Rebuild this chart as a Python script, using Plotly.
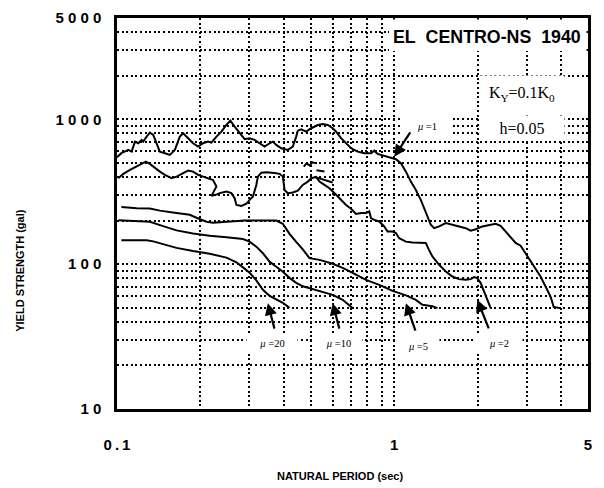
import numpy as np
import plotly.graph_objects as go

# ---------------- data ----------------
T_mu1 = [0.100, 0.1037, 0.1098, 0.1129, 0.1161, 0.1193, 0.1227, 0.1243, 0.1279, 0.1314,
         0.1351, 0.1389, 0.1427, 0.1488, 0.1551, 0.1617, 0.1685, 0.1732, 0.1805, 0.1881,
         0.1961, 0.2044, 0.2130, 0.2191, 0.2284, 0.2380, 0.2481, 0.2564, 0.2657, 0.2770,
         0.2887, 0.3009, 0.3136, 0.3268, 0.3407, 0.3551, 0.3650, 0.3754, 0.3913, 0.4133,
         0.4307, 0.4430, 0.4490, 0.4617, 0.4813, 0.5016, 0.5299, 0.5523, 0.5756, 0.5999,
         0.6170, 0.6430, 0.6703, 0.6986, 0.7379, 0.7800, 0.8245, 0.8472, 0.8710, 0.9204,
         0.9730, 1.014, 1.057, 1.102, 1.148, 1.197, 1.247, 1.318, 1.355, 1.393,
         1.452, 1.535, 1.621, 1.713, 1.811, 1.888, 1.968, 2.078, 2.196, 2.322,
         2.420, 2.523, 2.629, 2.741, 2.857, 2.977, 3.103, 3.234, 3.371, 3.514,
         3.662, 3.763, 3.978]
S_mu1 = [547, 583, 614, 598, 701, 683, 720, 701, 759, 808,
         779, 683, 598, 583, 567, 614, 759, 801, 740, 683,
         647, 683, 701, 690, 759, 821, 913, 978, 889, 801,
         728, 740, 720, 683, 647, 683, 701, 665, 631, 614,
         647, 759, 834, 853, 821, 867, 913, 928, 913, 867,
         821, 740, 683, 631, 598, 583, 583, 607, 576, 558,
         547, 530, 497, 435, 371, 325, 278, 213, 187, 177,
         182, 192, 187, 184, 177, 170, 174, 182, 187, 190,
         184, 168, 151, 140, 134, 119, 104, 93.8, 82.1, 70.1,
         59.8, 50.5, 49.7]

T_mu2 = [0.1011, 0.1054, 0.1114, 0.1177, 0.1227, 0.1271, 0.1314, 0.1370, 0.1427, 0.1488,
         0.1573, 0.1640, 0.1709, 0.1805, 0.1881, 0.1961, 0.2044, 0.2130, 0.2221, 0.2284,
         0.2221, 0.2191, 0.2271, 0.2347, 0.2481, 0.2586, 0.2657, 0.2696, 0.2810, 0.2929,
         0.3009, 0.3093, 0.3181, 0.3223, 0.3314, 0.3455, 0.3701, 0.3858, 0.3965, 0.3998,
         0.4021, 0.4133, 0.4307, 0.4490, 0.4679, 0.4877, 0.5016, 0.5229, 0.5374, 0.5602,
         0.5838, 0.6170, 0.6430, 0.6703, 0.6986, 0.7281, 0.7590, 0.7911, 0.8130, 0.8245,
         0.8472, 0.8831, 0.9204, 0.9461, 0.9861, 1.014, 1.042, 1.102, 1.164, 1.230,
         1.300, 1.336, 1.373, 1.452, 1.535, 1.621, 1.713, 1.811, 1.888, 1.940,
         1.994, 2.051, 2.108, 2.166, 2.228]
S_mu2 = [392, 420, 447, 471, 492, 510, 492, 459, 435, 413,
         392, 402, 420, 442, 435, 413, 402, 392, 381, 343,
         309, 296, 301, 309, 317, 309, 285, 256, 252, 261,
         278, 293, 352, 402, 428, 430, 426, 420, 402, 364,
         325, 309, 312, 322, 352, 371, 392, 400, 371, 352,
         334, 301, 278, 256, 241, 222, 225, 225, 231, 208,
         202, 197, 182, 168, 168, 164, 151, 143, 141, 140,
         140, 125, 113, 98.9, 88.9, 82.1, 78.8, 77.9, 78.8, 81.4,
         80.1, 74.0, 64.7, 56.7, 49.7]

T_mu5 = [0.1037, 0.1177, 0.1314, 0.1427, 0.1640, 0.1830, 0.1935, 0.2102, 0.2221, 0.2550,
         0.2887, 0.3268, 0.3754, 0.3965, 0.4191, 0.4430, 0.4679, 0.4946, 0.5374, 0.5999,
         0.6518, 0.7079, 0.7911, 0.8831, 0.9861, 1.102, 1.197, 1.264, 1.373, 1.432]
S_mu5 = [248, 243, 242, 234, 225, 219, 209, 196, 193, 197,
         200, 200, 200, 190, 162, 142.5, 126.5, 110, 107, 100.5,
         94.3, 87.1, 77.9, 72.0, 65.4, 60.9, 56.7, 52.4, 51.2, 49.7]

T_mu10 = [0.1011, 0.1177, 0.1314, 0.1467, 0.1640, 0.1881, 0.2160, 0.2481, 0.2847, 0.3009,
          0.3181, 0.3359, 0.3551, 0.3754, 0.3965, 0.4191, 0.4430, 0.4679, 0.4946, 0.5374,
          0.5999, 0.6518, 0.6774, 0.7079]
S_mu10 = [201, 199, 196, 183, 171, 163, 157, 153.5, 149, 143,
          132, 119, 104, 95.8, 88.5, 80.4, 74.3, 70.3, 68.1, 64.7,
          61.4, 56.7, 53.2, 49.7]

T_mu20 = [0.1037, 0.1177, 0.1279, 0.1351, 0.1427, 0.1640, 0.1881, 0.2160, 0.2481, 0.2696,
          0.2847, 0.3009, 0.3181, 0.3359, 0.3551, 0.3754, 0.3965, 0.4191]
S_mu20 = [146, 145.5, 146, 143.6, 139.6, 129.5, 123.1, 117.8, 110.9, 102.9,
          95.0, 87.1, 77.3, 66.5, 60.4, 57.0, 54.1, 49.9]

# small pen marks near T~0.5 in the original
T_mark_a = [0.4718, 0.4826, 0.4946, 0.5070, 0.5242]
S_mark_a = [471, 496, 480, 504, 496]
T_mark_b = [0.5242, 0.5602]
S_mark_b = [444, 436]
T_mark_c = [0.5156, 0.5999]
S_mark_c = [400, 366]

series_T = [T_mu1, T_mu2, T_mu5, T_mu10, T_mu20, T_mark_a, T_mark_b, T_mark_c]
series_S = [S_mu1, S_mu2, S_mu5, S_mu10, S_mu20, S_mark_a, S_mark_b, S_mark_c]

x_tick_vals = [0.1, 1, 5]
x_tick_text = ["0\u2009.\u20091", "1", "5"]
y_tick_vals = [10, 100, 1000, 5000]
y_tick_text = ["1 0", "1 0 0", "1 0 0 0", "5 0 0 0"]
x_grid_vals = [0.2, 0.3, 0.4, 0.5, 0.6, 0.7, 0.8, 0.9, 2, 3, 4]
y_grid_vals = [20, 30, 40, 50, 60, 70, 80, 90, 200, 300, 400, 500, 600, 700, 800, 900,
               2000, 3000, 4000]

label_text = ["<i>\u03bc</i> =1", "<i>\u03bc</i> =2", "<i>\u03bc</i> =5",
              "<i>\u03bc</i> =10", "<i>\u03bc</i> =20"]
label_T = [1.315, 2.386, 1.220, 0.629, 0.361]
label_S = [899, 28.7, 27.3, 28.7, 28.7]
label_box_w = [50, 46, 42, 47, 50]
arrow_tip_T = [1.0, 1.994, 1.102, 0.600, 0.350]
arrow_tip_S = [550, 56.7, 53.8, 53.8, 53.8]
arrow_dx = [17, 12, 10, 7, 7]
arrow_dy = [-26, 30, 29, 27, 27]

# ---------------- figure ----------------
fig = go.Figure()
for tx, sy in zip(series_T, series_S):
    fig.add_trace(go.Scatter(x=tx, y=sy, mode="lines",
                             line=dict(color="black", width=2),
                             hoverinfo="skip", showlegend=False))

grid_style = dict(showgrid=True, gridcolor="black", gridwidth=1.6, griddash="2px,2.6px")

fig.update_xaxes(type="log", range=[-1, np.log10(5)], automargin=False,
                 tickmode="array", tickvals=x_tick_vals, ticktext=x_tick_text,
                 ticks="", ticklabelstandoff=20,
                 tickfont=dict(size=15, family="Liberation Sans, Arial", weight="bold"),
                 showline=True, mirror=True, linecolor="black", linewidth=2.5,
                 zeroline=False,
                 minor=dict(tickmode="array", tickvals=x_grid_vals, ticks="", **grid_style),
                 **grid_style)
fig.update_yaxes(type="log", range=[1, np.log10(5000)], automargin=False,
                 tickmode="array", tickvals=y_tick_vals, ticktext=y_tick_text,
                 ticks="", ticklabelstandoff=10,
                 tickfont=dict(size=15, family="Liberation Sans, Arial", weight="bold"),
                 showline=True, mirror=True, linecolor="black", linewidth=2.5,
                 zeroline=False,
                 minor=dict(tickmode="array", tickvals=y_grid_vals, ticks="", **grid_style),
                 **grid_style)

# helpers: pixel position in the 604x488 page -> paper fraction of the plot area
PX0, PY1, PW, PH = 117, 409.3, 471, 391.3
def px_to_paper_x(p):
    return (p - PX0) / PW
def px_to_paper_y(p):
    return (PY1 - p) / PH

# white panel behind the title (hides the grid there)
fig.add_shape(type="rect", xref="paper", yref="paper",
              x0=px_to_paper_x(389), x1=px_to_paper_x(586.5),
              y0=px_to_paper_y(51), y1=px_to_paper_y(19.4),
              fillcolor="white", line=dict(width=0), layer="above")

ann = []
ann.append(dict(xref="paper", yref="paper", x=px_to_paper_x(487), y=px_to_paper_y(37.5),
                xanchor="center", yanchor="middle",
                text="<b>EL\u00a0 CENTRO-NS\u00a0 1940</b>", showarrow=False,
                font=dict(size=17.8, family="Liberation Sans, Arial", color="black")))
ann.append(dict(xref="paper", yref="paper", x=px_to_paper_x(522), y=px_to_paper_y(94),
                xanchor="center", yanchor="middle",
                text="K<sub>Y</sub>=0.1K<sub>0</sub>", showarrow=False,
                font=dict(size=16, family="Liberation Serif, Times New Roman", color="black"),
                bgcolor="white", width=84, height=36, borderpad=0))
ann.append(dict(xref="paper", yref="paper", x=px_to_paper_x(522), y=px_to_paper_y(128),
                xanchor="center", yanchor="middle",
                text="h=0.05", showarrow=False,
                font=dict(size=16, family="Liberation Serif, Times New Roman", color="black"),
                bgcolor="white", width=84, height=24, borderpad=0))
# mu labels
for t, tx_, s_, w_ in zip(label_text, label_T, label_S, label_box_w):
    ann.append(dict(xref="x", yref="y", x=np.log10(tx_), y=np.log10(s_),
                    xanchor="center", yanchor="middle", text=t, showarrow=False,
                    font=dict(size=10.5, family="Liberation Serif, Times New Roman", color="black"),
                    bgcolor="white", width=w_, height=18, borderpad=0))
# arrows
for tt, ss, dx, dy in zip(arrow_tip_T, arrow_tip_S, arrow_dx, arrow_dy):
    ann.append(dict(xref="x", yref="y", x=np.log10(tt), y=np.log10(ss), ax=dx, ay=dy,
                    text="", showarrow=True, arrowhead=2, arrowsize=1.1, arrowwidth=2.2,
                    arrowcolor="black", standoff=0, startstandoff=0))
# axis titles
ann.append(dict(xref="paper", yref="paper", x=px_to_paper_x(20), y=px_to_paper_y(271),
                text="<b>YIELD STRENGTH (gal)</b>", textangle=-90, showarrow=False,
                xanchor="center", yanchor="middle",
                font=dict(size=11, family="Liberation Sans, Arial", color="black")))
ann.append(dict(xref="paper", yref="paper", x=px_to_paper_x(340), y=px_to_paper_y(476),
                text="<b>NATURAL PERIOD (sec)</b>", showarrow=False,
                xanchor="center", yanchor="middle",
                font=dict(size=11, family="Liberation Sans, Arial", color="black")))

# the page adds an 8 px body margin at top/left, so the figure is sized to compensate
fig.update_layout(width=596, height=480,
                  margin=dict(l=109, r=16, t=10, b=79),
                  plot_bgcolor="white", paper_bgcolor="white",
                  showlegend=False,
                  font=dict(family="Liberation Sans, Arial", color="black"),
                  annotations=ann)

fig.write_html("out.html")
